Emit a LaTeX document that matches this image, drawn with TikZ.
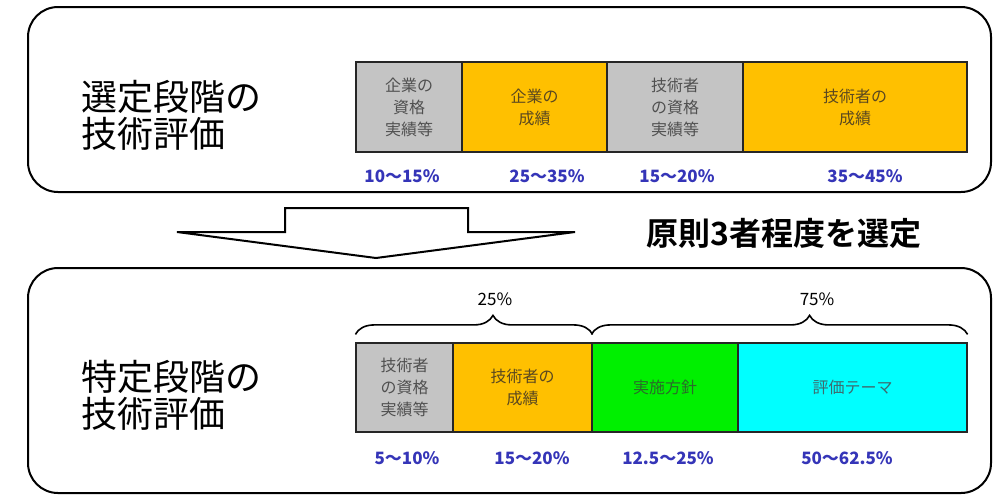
\documentclass[tikz,border=0pt]{standalone}
\usepackage{fontspec}
\setmainfont{Noto Sans CJK JP}
\newfontfamily\jp{Noto Sans CJK JP}
\newfontfamily\jpb{Noto Sans CJK JP Bold}
\usetikzlibrary{decorations.pathreplacing}
\definecolor{barorange}{HTML}{FFC000}
\definecolor{bargray}{HTML}{C4C4C4}
\definecolor{bargreen}{HTML}{00F000}
\definecolor{barcyan}{HTML}{00FFFF}
\definecolor{pctblue}{HTML}{3535B8}
\definecolor{graytxt}{HTML}{505050}
\definecolor{orgtxt}{HTML}{5A4820}
\definecolor{grntxt}{HTML}{2A6A2A}
\definecolor{cyntxt}{HTML}{3E6A6E}
\begin{document}
\begin{tikzpicture}[x=1pt,y=-1pt,
  panel/.style={draw=black,line width=2pt,rounded corners=30pt,fill=white},
  seg/.style={draw=black!85,line width=1.2pt,inner sep=0pt,align=center,font=\jp\fontsize{16}{22}\selectfont},
  pct/.style={font=\jp\fontsize{17}{18}\selectfont\bfseries,text=pctblue},
  head/.style={font=\jp\fontsize{36}{37}\selectfont,align=left,anchor=west},
  brc/.style={draw=black,line width=1.6pt,decorate,decoration={brace,amplitude=19pt,aspect=0.58}}]
\useasboundingbox (0,0) rectangle (1008,496);
\fill[white] (0,0) rectangle (1008,496);
% panels
\draw[panel] (28,7) rectangle (991,192);
\draw[panel] (28,268) rectangle (991,493);
% headings
\node[head] (h1) at (78,115) {選定段階の\\技術評価};
\node[head] (h2) at (78,395) {特定段階の\\技術評価};
% top bar
\node[seg,fill=bargray,text=graytxt,minimum width=106pt,minimum height=90pt] (t1) at (409,107) {企業の\\資格\\実績等};
\node[seg,fill=barorange,text=orgtxt,minimum width=145pt,minimum height=90pt] (t2) at (534.5,107) {企業の\\成績};
\node[seg,fill=bargray,text=graytxt,minimum width=136pt,minimum height=90pt] (t3) at (675,107) {技術者\\の資格\\実績等};
\node[seg,fill=barorange,text=orgtxt,minimum width=224pt,minimum height=90pt] (t4) at (855,107) {技術者の\\成績};
\node[pct] (p1) at (402,176) {10〜15\%};
\node[pct] (p2) at (547,176) {25〜35\%};
\node[pct] (p3) at (677,176) {15〜20\%};
\node[pct] (p4) at (865,176) {35〜45\%};
% arrow
\draw[fill=white,line width=2pt,line join=miter] (285,208) -- (468,208) -- (468,232) -- (575,232) -- (376,258) -- (177,232) -- (285,232) -- cycle;
\node[font=\jpb\fontsize{32}{34}\selectfont] (sel) at (784,233) {原則3者程度を選定};
% bottom bar
\node[seg,fill=bargray,text=graytxt,minimum width=97pt,minimum height=89pt] (b1) at (404.5,387.5) {技術者\\の資格\\実績等};
\node[seg,fill=barorange,text=orgtxt,minimum width=139pt,minimum height=89pt] (b2) at (522.5,387.5) {技術者の\\成績};
\node[seg,fill=bargreen,text=grntxt,minimum width=146pt,minimum height=89pt] (b3) at (665,387.5) {実施方針};
\node[seg,fill=barcyan,text=cyntxt,minimum width=229pt,minimum height=89pt] (b4) at (852.5,387.5) {評価テーマ};
\node[pct] (q1) at (407,458) {5〜10\%};
\node[pct] (q2) at (532,458) {15〜20\%};
\node[pct] (q3) at (668,458) {12.5〜25\%};
\node[pct] (q4) at (847,458) {50〜62.5\%};
% braces
\draw[brc] ([yshift=8pt]b1.north west) -- ([yshift=8pt]b2.north east);
\draw[brc] ([yshift=8pt]b3.north west) -- ([yshift=8pt]b4.north east);
\node[font=\jp\fontsize{17}{18}\selectfont] (l25) at (495,299) {25\%};
\node[font=\jp\fontsize{17}{18}\selectfont] (l75) at (817,299) {75\%};
\end{tikzpicture}
\end{document}
